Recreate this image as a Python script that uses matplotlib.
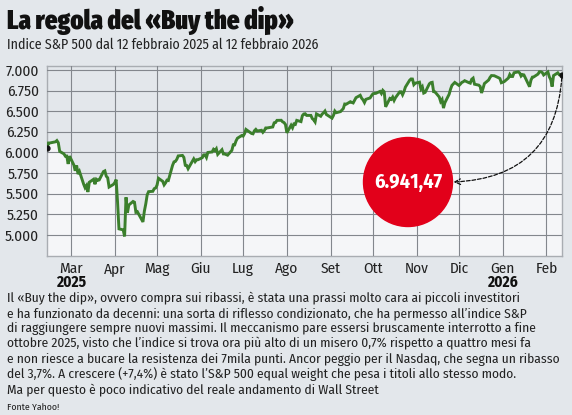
import matplotlib
matplotlib.use("Agg")
import matplotlib.pyplot as plt
from matplotlib.patches import Ellipse
import pandas as pd

# S&P 500 closes, 12 Feb 2025 - 12 Feb 2026
dates = [
    "2025-02-12", "2025-02-13", "2025-02-14", "2025-02-18", "2025-02-19", "2025-02-20", "2025-02-21",
    "2025-02-24", "2025-02-25", "2025-02-26", "2025-02-27", "2025-02-28",
    "2025-03-03", "2025-03-04", "2025-03-05", "2025-03-06", "2025-03-07", "2025-03-10", "2025-03-11",
    "2025-03-12", "2025-03-13", "2025-03-14", "2025-03-17", "2025-03-18", "2025-03-19", "2025-03-20",
    "2025-03-21", "2025-03-24", "2025-03-25", "2025-03-26", "2025-03-27", "2025-03-28", "2025-03-31",
    "2025-04-01", "2025-04-02", "2025-04-03", "2025-04-04", "2025-04-07", "2025-04-08", "2025-04-09",
    "2025-04-10", "2025-04-11", "2025-04-14", "2025-04-15", "2025-04-16", "2025-04-17", "2025-04-21",
    "2025-04-22", "2025-04-23", "2025-04-24", "2025-04-25", "2025-04-28", "2025-04-29", "2025-04-30",
    "2025-05-01", "2025-05-02", "2025-05-05", "2025-05-06", "2025-05-07", "2025-05-08", "2025-05-09",
    "2025-05-12", "2025-05-13", "2025-05-14", "2025-05-15", "2025-05-16", "2025-05-19", "2025-05-20",
    "2025-05-21", "2025-05-22", "2025-05-23", "2025-05-27", "2025-05-28", "2025-05-29", "2025-05-30",
    "2025-06-02", "2025-06-03", "2025-06-04", "2025-06-05", "2025-06-06", "2025-06-09", "2025-06-10",
    "2025-06-11", "2025-06-12", "2025-06-13", "2025-06-16", "2025-06-17", "2025-06-18", "2025-06-20",
    "2025-06-23", "2025-06-24", "2025-06-25", "2025-06-26", "2025-06-27", "2025-06-30",
    "2025-07-01", "2025-07-02", "2025-07-03", "2025-07-07", "2025-07-08", "2025-07-09", "2025-07-10",
    "2025-07-11", "2025-07-14", "2025-07-15", "2025-07-16", "2025-07-17", "2025-07-18", "2025-07-21",
    "2025-07-22", "2025-07-23", "2025-07-24", "2025-07-25", "2025-07-28", "2025-07-29", "2025-07-30",
    "2025-07-31",
    "2025-08-01", "2025-08-04", "2025-08-05", "2025-08-06", "2025-08-07", "2025-08-08", "2025-08-11",
    "2025-08-12", "2025-08-13", "2025-08-14", "2025-08-15", "2025-08-18", "2025-08-19", "2025-08-20",
    "2025-08-21", "2025-08-22", "2025-08-25", "2025-08-26", "2025-08-27", "2025-08-28", "2025-08-29",
    "2025-09-02", "2025-09-03", "2025-09-04", "2025-09-05", "2025-09-08", "2025-09-09", "2025-09-10",
    "2025-09-11", "2025-09-12", "2025-09-15", "2025-09-16", "2025-09-17", "2025-09-18", "2025-09-19",
    "2025-09-22", "2025-09-23", "2025-09-24", "2025-09-25", "2025-09-26", "2025-09-29", "2025-09-30",
    "2025-10-01", "2025-10-02", "2025-10-03", "2025-10-06", "2025-10-07", "2025-10-08", "2025-10-09",
    "2025-10-10", "2025-10-13", "2025-10-14", "2025-10-15", "2025-10-16", "2025-10-17", "2025-10-20",
    "2025-10-21", "2025-10-22", "2025-10-23", "2025-10-24", "2025-10-27", "2025-10-28", "2025-10-29",
    "2025-10-30", "2025-10-31",
    "2025-11-03", "2025-11-04", "2025-11-05", "2025-11-06", "2025-11-07", "2025-11-10", "2025-11-11",
    "2025-11-12", "2025-11-13", "2025-11-14", "2025-11-17", "2025-11-18", "2025-11-19", "2025-11-20",
    "2025-11-21", "2025-11-24", "2025-11-25", "2025-11-26", "2025-11-28",
    "2025-12-01", "2025-12-02", "2025-12-03", "2025-12-04", "2025-12-05", "2025-12-08", "2025-12-09",
    "2025-12-10", "2025-12-11", "2025-12-12", "2025-12-15", "2025-12-16", "2025-12-17", "2025-12-18",
    "2025-12-19", "2025-12-22", "2025-12-23", "2025-12-24", "2025-12-26", "2025-12-29", "2025-12-30",
    "2025-12-31",
    "2026-01-02", "2026-01-05", "2026-01-06", "2026-01-07", "2026-01-08", "2026-01-09", "2026-01-12",
    "2026-01-13", "2026-01-14", "2026-01-15", "2026-01-16", "2026-01-20", "2026-01-21", "2026-01-22",
    "2026-01-23", "2026-01-26", "2026-01-27", "2026-01-28", "2026-01-29", "2026-01-30",
    "2026-02-02", "2026-02-03", "2026-02-04", "2026-02-05", "2026-02-06", "2026-02-09", "2026-02-10",
    "2026-02-11", "2026-02-12",
]
closes = [
    6051, 6115, 6115, 6129, 6144, 6118, 6013,
    5983, 5955, 5956, 5861, 5955,
    5849, 5778, 5842, 5738, 5770, 5614, 5572,
    5599, 5521, 5639, 5675, 5615, 5675, 5662,
    5667, 5768, 5777, 5712, 5693, 5581, 5612,
    5633, 5671, 5397, 5074, 5062, 4983, 5457,
    5268, 5363, 5406, 5397, 5276, 5283, 5158,
    5288, 5376, 5485, 5525, 5529, 5561, 5569,
    5604, 5687, 5650, 5607, 5631, 5664, 5660,
    5844, 5886, 5892, 5917, 5958, 5964, 5940,
    5845, 5842, 5803, 5922, 5889, 5912, 5912,
    5936, 5970, 5971, 5939, 6000, 6006, 6038,
    6022, 6045, 5977, 6033, 5982, 5981, 5967,
    6025, 6092, 6092, 6141, 6173, 6205,
    6198, 6227, 6279, 6230, 6226, 6263, 6280,
    6260, 6269, 6244, 6264, 6297, 6297, 6306,
    6309, 6359, 6363, 6389, 6390, 6371, 6362,
    6339,
    6238, 6330, 6299, 6345, 6340, 6389, 6374,
    6446, 6466, 6469, 6449, 6449, 6411, 6395,
    6370, 6467, 6439, 6465, 6481, 6502, 6460,
    6416, 6448, 6502, 6482, 6495, 6513, 6532,
    6587, 6584, 6615, 6606, 6600, 6632, 6664,
    6693, 6657, 6637, 6605, 6644, 6661, 6688,
    6711, 6715, 6716, 6740, 6714, 6753, 6735,
    6553, 6654, 6644, 6671, 6630, 6664, 6735,
    6735, 6699, 6738, 6792, 6875, 6891, 6890,
    6822, 6840,
    6852, 6771, 6796, 6720, 6728, 6832, 6846,
    6850, 6737, 6734, 6672, 6617, 6642, 6538,
    6603, 6705, 6766, 6813, 6849,
    6812, 6829, 6849, 6857, 6870, 6846, 6840,
    6887, 6901, 6827, 6816, 6800, 6721, 6775,
    6835, 6878, 6910, 6932, 6930, 6906, 6896,
    6845,
    6858, 6902, 6945, 6921, 6921, 6966, 6977,
    6964, 6926, 6944, 6940, 6797, 6876, 6913,
    6916, 6950, 6979, 6978, 6969, 6939,
    6976, 6917, 6883, 6798, 6932, 6965, 6942,
    6941, 6941.47,
]
month_labels = ["Mar", "Apr", "Mag", "Giu", "Lug", "Ago", "Set", "Ott", "Nov", "Dic", "Gen", "Feb"]
y_ticks = [5000, 5250, 5500, 5750, 6000, 6250, 6500, 6750, 7000]
last_label = "6.941,47"

title = "La regola del «Buy the dip»"
subtitle = "Indice S&P 500 dal 12 febbraio 2025 al 12 febbraio 2026"
body = [
    "Il «Buy the dip», ovvero compra sui ribassi, è stata una prassi molto cara ai piccoli investitori",
    "e ha funzionato da decenni: una sorta di riflesso condizionato, che ha permesso all’indice S&P",
    "di raggiungere sempre nuovi massimi. Il meccanismo pare essersi bruscamente interrotto a fine",
    "ottobre 2025, visto che l’indice si trova ora più alto di un misero 0,7% rispetto a quattro mesi fa",
    "e non riesce a bucare la resistenza dei 7mila punti. Ancor peggio per il Nasdaq, che segna un ribasso",
    "del 3,7%. A crescere (+7,4%) è stato l’S&P 500 equal weight che pesa i titoli allo stesso modo.",
    "Ma per questo è poco indicativo del reale andamento di Wall Street",
]
source = "Fonte Yahoo!"

BG = "#e3e7eb"
FILL = "#f5f6f8"
GREEN = "#3b7f2c"
GRID = "#83878d"
RED = "#e2001a"
plt.rcParams["font.family"] = ["Fira Sans Condensed", "DejaVu Sans"]
TITLE_FONT = ["Fira Sans Extra Condensed", "DejaVu Sans"]

x = pd.to_datetime(dates)
W, H = 572, 415
fig = plt.figure(figsize=(W / 100, H / 100), dpi=100, facecolor=BG)
ax = fig.add_axes([47 / W, 1 - 256 / H, (562 - 47) / W, (256 - 66) / H])
ax.set_facecolor(BG)

x0, x1 = pd.Timestamp("2025-02-12"), pd.Timestamp("2026-02-12")
ax.set_xlim(x0, x1)
ax.set_ylim(4745, 7048)
ax.fill_between(x, closes, 4745, color=FILL, lw=0, zorder=1)

ax.set_yticks(y_ticks)
ax.set_yticklabels([f"{v:,}".replace(",", ".") for v in y_ticks])
months = pd.date_range("2025-03-01", "2026-02-01", freq="MS")
ax.set_xticks(months)
ax.set_xticklabels(month_labels)
ax.grid(True, color=GRID, lw=0.8, zorder=2)
ax.set_axisbelow(False)
ax.tick_params(length=0, labelsize=11, colors="#222222")
ax.tick_params(axis="y", pad=6)
ax.tick_params(axis="x", pad=4)
for s in ax.spines.values():
    s.set_color("#a9adb2")
    s.set_linewidth(1)
    s.set_zorder(2)

ax.plot(x, closes, color=GREEN, lw=2.1, zorder=3, solid_joinstyle="miter")
ax.plot([x[0], x[-1]], [closes[0], closes[-1]], "o", color="#111111", ms=3.5, zorder=4)

# year labels under Mar and Gen
ax.text(months[0], -0.14, "2025", transform=ax.get_xaxis_transform(), ha="center",
        va="center", fontsize=11, fontweight="bold", color="#111111")
ax.text(months[10], -0.14, "2026", transform=ax.get_xaxis_transform(), ha="center",
        va="center", fontsize=11, fontweight="bold", color="#111111")

# red bubble with last value
cx, cy, r = 408, 182, 44.5
fig.patches.append(Ellipse((cx / W, 1 - cy / H), 2 * r / W, 2 * r / H,
                           transform=fig.transFigure, color=RED, zorder=5))
fig.text(cx / W, 1 - cy / H, last_label, ha="center", va="center", color="white",
         fontsize=14.5, fontweight="bold", zorder=6)
ax.annotate("", xy=((cx + r + 1) / W, 1 - cy / H), xycoords="figure fraction",
            xytext=(x[-1], closes[-1]), textcoords="data",
            arrowprops=dict(arrowstyle="->", color="#111111", lw=0.9, ls=(0, (3, 1.5)),
                            connectionstyle="arc3,rad=-0.45", shrinkA=2, shrinkB=0))

fig.text(7 / W, 1 - 20 / H, title, ha="left", va="center", fontsize=19.3, fontweight="black",
         family=TITLE_FONT, color="#111111")
fig.text(7 / W, 1 - 45 / H, subtitle, ha="left", va="center", fontsize=10, color="#222222")
for i, line in enumerate(body):
    fig.text(7 / W, 1 - (298 + 15.3 * i) / H, line, ha="left", va="center", fontsize=9.7,
             color="#222222")
fig.text(7 / W, 1 - 407 / H, source, ha="left", va="center", fontsize=7, color="#222222")

fig.savefig("out.png", dpi=100, facecolor=BG)
